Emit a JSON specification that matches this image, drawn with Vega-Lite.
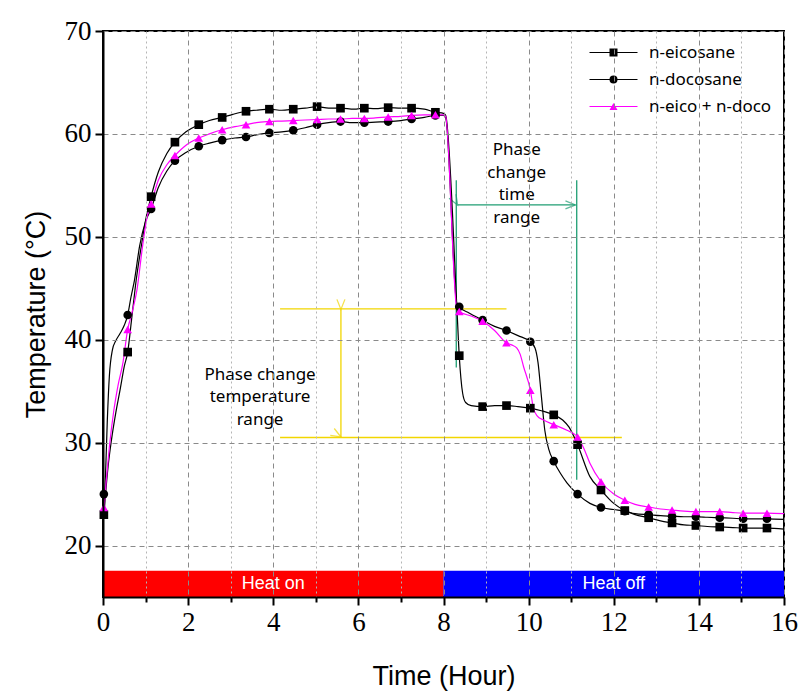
{
  "$schema": "https://vega.github.io/schema/vega-lite/v6.json",
  "width": 681,
  "height": 566,
  "autosize": "none",
  "padding": {"left": 103, "top": 31, "right": 26, "bottom": 103},
  "background": "white",
  "config": {
    "view": {"stroke": "black", "strokeWidth": 2},
    "axis": {
      "domainColor": "black", "domainWidth": 2,
      "tickColor": "black", "tickWidth": 2, "labelFlush": false,
      "labelFont": "Liberation Serif", "labelFontSize": 27, "labelColor": "black",
      "titleFont": "Liberation Sans", "titleFontSize": 27, "titleFontWeight": "normal", "titleColor": "black",
      "gridColor": "#8a8a8a", "gridDash": [5, 4], "gridWidth": 1
    },
    "legend": {
      "orient": "none", "padding": 0, "labelFont": "Noto Sans", "labelFontSize": 17, "labelColor": "black",
      "symbolSize": 64, "labelOffset": 27, "rowPadding": 9, "title": null
    }
  },
  "datasets": {
    "lines": [
      {"series": "n-eicosane", "time": 0.0, "temp": 22.9},
      {"series": "n-eicosane", "time": 0.03, "temp": 23.5},
      {"series": "n-eicosane", "time": 0.06, "temp": 25.0},
      {"series": "n-eicosane", "time": 0.12, "temp": 27.7},
      {"series": "n-eicosane", "time": 0.2, "temp": 30.3},
      {"series": "n-eicosane", "time": 0.3, "temp": 32.9},
      {"series": "n-eicosane", "time": 0.4, "temp": 35.1},
      {"series": "n-eicosane", "time": 0.5, "temp": 37.4},
      {"series": "n-eicosane", "time": 0.58, "temp": 38.8},
      {"series": "n-eicosane", "time": 0.67, "temp": 41.9},
      {"series": "n-eicosane", "time": 0.78, "temp": 45.8},
      {"series": "n-eicosane", "time": 0.9, "temp": 49.1},
      {"series": "n-eicosane", "time": 1.02, "temp": 52.0},
      {"series": "n-eicosane", "time": 1.13, "temp": 53.9},
      {"series": "n-eicosane", "time": 1.3, "temp": 56.3},
      {"series": "n-eicosane", "time": 1.5, "temp": 58.1},
      {"series": "n-eicosane", "time": 1.69, "temp": 59.2},
      {"series": "n-eicosane", "time": 1.95, "temp": 60.2},
      {"series": "n-eicosane", "time": 2.25, "temp": 60.9},
      {"series": "n-eicosane", "time": 2.5, "temp": 61.3},
      {"series": "n-eicosane", "time": 2.8, "temp": 61.6},
      {"series": "n-eicosane", "time": 3.05, "temp": 61.9},
      {"series": "n-eicosane", "time": 3.36, "temp": 62.2},
      {"series": "n-eicosane", "time": 3.6, "temp": 62.3},
      {"series": "n-eicosane", "time": 3.91, "temp": 62.4},
      {"series": "n-eicosane", "time": 4.2, "temp": 62.3},
      {"series": "n-eicosane", "time": 4.47, "temp": 62.4},
      {"series": "n-eicosane", "time": 4.75, "temp": 62.5},
      {"series": "n-eicosane", "time": 5.03, "temp": 62.65},
      {"series": "n-eicosane", "time": 5.3, "temp": 62.5},
      {"series": "n-eicosane", "time": 5.58, "temp": 62.5},
      {"series": "n-eicosane", "time": 5.9, "temp": 62.4},
      {"series": "n-eicosane", "time": 6.14, "temp": 62.5},
      {"series": "n-eicosane", "time": 6.4, "temp": 62.45},
      {"series": "n-eicosane", "time": 6.7, "temp": 62.55},
      {"series": "n-eicosane", "time": 7.0, "temp": 62.5},
      {"series": "n-eicosane", "time": 7.25, "temp": 62.5},
      {"series": "n-eicosane", "time": 7.55, "temp": 62.4},
      {"series": "n-eicosane", "time": 7.81, "temp": 62.1},
      {"series": "n-eicosane", "time": 8.0, "temp": 62.0},
      {"series": "n-eicosane", "time": 8.05, "temp": 61.8},
      {"series": "n-eicosane", "time": 8.31, "temp": 43.5},
      {"series": "n-eicosane", "time": 8.37, "temp": 38.45},
      {"series": "n-eicosane", "time": 8.45, "temp": 34.8},
      {"series": "n-eicosane", "time": 8.52, "temp": 33.9},
      {"series": "n-eicosane", "time": 8.65, "temp": 33.6},
      {"series": "n-eicosane", "time": 8.92, "temp": 33.5},
      {"series": "n-eicosane", "time": 9.2, "temp": 33.6},
      {"series": "n-eicosane", "time": 9.48, "temp": 33.6},
      {"series": "n-eicosane", "time": 9.75, "temp": 33.5},
      {"series": "n-eicosane", "time": 10.04, "temp": 33.35},
      {"series": "n-eicosane", "time": 10.3, "temp": 33.1},
      {"series": "n-eicosane", "time": 10.59, "temp": 32.7},
      {"series": "n-eicosane", "time": 10.8, "temp": 32.2},
      {"series": "n-eicosane", "time": 10.95, "temp": 31.5},
      {"series": "n-eicosane", "time": 11.15, "temp": 29.8},
      {"series": "n-eicosane", "time": 11.44, "temp": 26.7},
      {"series": "n-eicosane", "time": 11.7, "temp": 25.4},
      {"series": "n-eicosane", "time": 12.0, "temp": 24.1},
      {"series": "n-eicosane", "time": 12.26, "temp": 23.4},
      {"series": "n-eicosane", "time": 12.5, "temp": 23.0},
      {"series": "n-eicosane", "time": 12.82, "temp": 22.7},
      {"series": "n-eicosane", "time": 13.1, "temp": 22.4},
      {"series": "n-eicosane", "time": 13.37, "temp": 22.2},
      {"series": "n-eicosane", "time": 13.65, "temp": 22.0},
      {"series": "n-eicosane", "time": 13.93, "temp": 21.95},
      {"series": "n-eicosane", "time": 14.2, "temp": 21.85},
      {"series": "n-eicosane", "time": 14.49, "temp": 21.8},
      {"series": "n-eicosane", "time": 14.8, "temp": 21.75},
      {"series": "n-eicosane", "time": 15.04, "temp": 21.7},
      {"series": "n-eicosane", "time": 15.3, "temp": 21.7},
      {"series": "n-eicosane", "time": 15.6, "temp": 21.7},
      {"series": "n-eicosane", "time": 16.0, "temp": 21.6},

      {"series": "n-docosane", "time": 0.0, "temp": 23.0},
      {"series": "n-docosane", "time": 0.03, "temp": 24.5},
      {"series": "n-docosane", "time": 0.06, "temp": 27.0},
      {"series": "n-docosane", "time": 0.1, "temp": 32.0},
      {"series": "n-docosane", "time": 0.15, "temp": 36.5},
      {"series": "n-docosane", "time": 0.22, "temp": 39.0},
      {"series": "n-docosane", "time": 0.3, "temp": 39.9},
      {"series": "n-docosane", "time": 0.4, "temp": 40.6},
      {"series": "n-docosane", "time": 0.5, "temp": 41.4},
      {"series": "n-docosane", "time": 0.58, "temp": 42.4},
      {"series": "n-docosane", "time": 0.66, "temp": 44.2},
      {"series": "n-docosane", "time": 0.74, "temp": 45.8},
      {"series": "n-docosane", "time": 0.86, "temp": 49.1},
      {"series": "n-docosane", "time": 1.0, "temp": 51.5},
      {"series": "n-docosane", "time": 1.13, "temp": 52.7},
      {"series": "n-docosane", "time": 1.3, "temp": 54.8},
      {"series": "n-docosane", "time": 1.5, "temp": 56.4},
      {"series": "n-docosane", "time": 1.69, "temp": 57.4},
      {"series": "n-docosane", "time": 1.95, "temp": 58.2},
      {"series": "n-docosane", "time": 2.25, "temp": 58.8},
      {"series": "n-docosane", "time": 2.5, "temp": 59.1},
      {"series": "n-docosane", "time": 2.8, "temp": 59.4},
      {"series": "n-docosane", "time": 3.1, "temp": 59.6},
      {"series": "n-docosane", "time": 3.36, "temp": 59.7},
      {"series": "n-docosane", "time": 3.6, "temp": 59.9},
      {"series": "n-docosane", "time": 3.91, "temp": 60.1},
      {"series": "n-docosane", "time": 4.2, "temp": 60.2},
      {"series": "n-docosane", "time": 4.47, "temp": 60.35},
      {"series": "n-docosane", "time": 4.75, "temp": 60.6},
      {"series": "n-docosane", "time": 5.03, "temp": 60.9},
      {"series": "n-docosane", "time": 5.3, "temp": 61.1},
      {"series": "n-docosane", "time": 5.58, "temp": 61.2},
      {"series": "n-docosane", "time": 5.85, "temp": 61.1},
      {"series": "n-docosane", "time": 6.14, "temp": 61.1},
      {"series": "n-docosane", "time": 6.4, "temp": 61.15},
      {"series": "n-docosane", "time": 6.7, "temp": 61.2},
      {"series": "n-docosane", "time": 7.0, "temp": 61.3},
      {"series": "n-docosane", "time": 7.25, "temp": 61.45},
      {"series": "n-docosane", "time": 7.55, "temp": 61.6},
      {"series": "n-docosane", "time": 7.81, "temp": 61.8},
      {"series": "n-docosane", "time": 8.0, "temp": 61.8},
      {"series": "n-docosane", "time": 8.05, "temp": 61.6},
      {"series": "n-docosane", "time": 8.31, "temp": 43.6},
      {"series": "n-docosane", "time": 8.37, "temp": 43.2},
      {"series": "n-docosane", "time": 8.6, "temp": 42.6},
      {"series": "n-docosane", "time": 8.92, "temp": 41.9},
      {"series": "n-docosane", "time": 9.2, "temp": 41.3},
      {"series": "n-docosane", "time": 9.48, "temp": 40.9},
      {"series": "n-docosane", "time": 9.75, "temp": 40.4},
      {"series": "n-docosane", "time": 10.04, "temp": 39.8},
      {"series": "n-docosane", "time": 10.15, "temp": 39.2},
      {"series": "n-docosane", "time": 10.22, "temp": 37.8},
      {"series": "n-docosane", "time": 10.3, "temp": 34.5},
      {"series": "n-docosane", "time": 10.38, "temp": 31.2},
      {"series": "n-docosane", "time": 10.47, "temp": 29.4},
      {"series": "n-docosane", "time": 10.59, "temp": 28.2},
      {"series": "n-docosane", "time": 10.75, "temp": 27.0},
      {"series": "n-docosane", "time": 10.9, "temp": 26.1},
      {"series": "n-docosane", "time": 11.15, "temp": 25.0},
      {"series": "n-docosane", "time": 11.44, "temp": 24.1},
      {"series": "n-docosane", "time": 11.7, "temp": 23.7},
      {"series": "n-docosane", "time": 12.0, "temp": 23.5},
      {"series": "n-docosane", "time": 12.26, "temp": 23.35},
      {"series": "n-docosane", "time": 12.5, "temp": 23.1},
      {"series": "n-docosane", "time": 12.82, "temp": 23.0},
      {"series": "n-docosane", "time": 13.1, "temp": 22.9},
      {"series": "n-docosane", "time": 13.37, "temp": 22.85},
      {"series": "n-docosane", "time": 13.65, "temp": 22.8},
      {"series": "n-docosane", "time": 13.93, "temp": 22.8},
      {"series": "n-docosane", "time": 14.2, "temp": 22.75},
      {"series": "n-docosane", "time": 14.49, "temp": 22.7},
      {"series": "n-docosane", "time": 14.8, "temp": 22.65},
      {"series": "n-docosane", "time": 15.04, "temp": 22.6},
      {"series": "n-docosane", "time": 15.3, "temp": 22.6},
      {"series": "n-docosane", "time": 15.6, "temp": 22.6},
      {"series": "n-docosane", "time": 16.0, "temp": 22.55},

      {"series": "n-eico + n-doco", "time": 0.0, "temp": 23.5},
      {"series": "n-eico + n-doco", "time": 0.03, "temp": 24.0},
      {"series": "n-eico + n-doco", "time": 0.08, "temp": 26.5},
      {"series": "n-eico + n-doco", "time": 0.15, "temp": 29.6},
      {"series": "n-eico + n-doco", "time": 0.25, "temp": 33.0},
      {"series": "n-eico + n-doco", "time": 0.35, "temp": 35.5},
      {"series": "n-eico + n-doco", "time": 0.47, "temp": 37.8},
      {"series": "n-eico + n-doco", "time": 0.58, "temp": 41.0},
      {"series": "n-eico + n-doco", "time": 0.68, "temp": 42.6},
      {"series": "n-eico + n-doco", "time": 0.8, "temp": 44.9},
      {"series": "n-eico + n-doco", "time": 0.93, "temp": 49.1},
      {"series": "n-eico + n-doco", "time": 1.04, "temp": 52.0},
      {"series": "n-eico + n-doco", "time": 1.13, "temp": 53.2},
      {"series": "n-eico + n-doco", "time": 1.3, "temp": 55.5},
      {"series": "n-eico + n-doco", "time": 1.5, "temp": 57.0},
      {"series": "n-eico + n-doco", "time": 1.69, "temp": 57.9},
      {"series": "n-eico + n-doco", "time": 1.95, "temp": 58.9},
      {"series": "n-eico + n-doco", "time": 2.25, "temp": 59.6},
      {"series": "n-eico + n-doco", "time": 2.5, "temp": 60.0},
      {"series": "n-eico + n-doco", "time": 2.8, "temp": 60.4},
      {"series": "n-eico + n-doco", "time": 3.1, "temp": 60.7},
      {"series": "n-eico + n-doco", "time": 3.36, "temp": 60.9},
      {"series": "n-eico + n-doco", "time": 3.6, "temp": 61.1},
      {"series": "n-eico + n-doco", "time": 3.91, "temp": 61.2},
      {"series": "n-eico + n-doco", "time": 4.2, "temp": 61.25},
      {"series": "n-eico + n-doco", "time": 4.47, "temp": 61.3},
      {"series": "n-eico + n-doco", "time": 4.75, "temp": 61.35},
      {"series": "n-eico + n-doco", "time": 5.03, "temp": 61.4},
      {"series": "n-eico + n-doco", "time": 5.3, "temp": 61.45},
      {"series": "n-eico + n-doco", "time": 5.58, "temp": 61.45},
      {"series": "n-eico + n-doco", "time": 5.85, "temp": 61.5},
      {"series": "n-eico + n-doco", "time": 6.14, "temp": 61.5},
      {"series": "n-eico + n-doco", "time": 6.4, "temp": 61.55},
      {"series": "n-eico + n-doco", "time": 6.7, "temp": 61.65},
      {"series": "n-eico + n-doco", "time": 7.0, "temp": 61.7},
      {"series": "n-eico + n-doco", "time": 7.25, "temp": 61.8},
      {"series": "n-eico + n-doco", "time": 7.55, "temp": 61.85},
      {"series": "n-eico + n-doco", "time": 7.81, "temp": 61.85},
      {"series": "n-eico + n-doco", "time": 8.0, "temp": 61.85},
      {"series": "n-eico + n-doco", "time": 8.05, "temp": 61.7},
      {"series": "n-eico + n-doco", "time": 8.31, "temp": 43.1},
      {"series": "n-eico + n-doco", "time": 8.37, "temp": 42.75},
      {"series": "n-eico + n-doco", "time": 8.65, "temp": 42.3},
      {"series": "n-eico + n-doco", "time": 8.92, "temp": 41.8},
      {"series": "n-eico + n-doco", "time": 9.2, "temp": 40.9},
      {"series": "n-eico + n-doco", "time": 9.48, "temp": 39.7},
      {"series": "n-eico + n-doco", "time": 9.6, "temp": 39.5},
      {"series": "n-eico + n-doco", "time": 9.72, "temp": 39.2},
      {"series": "n-eico + n-doco", "time": 9.8, "temp": 38.6},
      {"series": "n-eico + n-doco", "time": 9.88, "temp": 37.4},
      {"series": "n-eico + n-doco", "time": 10.04, "temp": 35.1},
      {"series": "n-eico + n-doco", "time": 10.11, "temp": 33.4},
      {"series": "n-eico + n-doco", "time": 10.2, "temp": 32.6},
      {"series": "n-eico + n-doco", "time": 10.35, "temp": 32.2},
      {"series": "n-eico + n-doco", "time": 10.59, "temp": 31.75},
      {"series": "n-eico + n-doco", "time": 10.9, "temp": 31.2},
      {"series": "n-eico + n-doco", "time": 11.15, "temp": 30.55},
      {"series": "n-eico + n-doco", "time": 11.3, "temp": 29.4},
      {"series": "n-eico + n-doco", "time": 11.44, "temp": 28.0},
      {"series": "n-eico + n-doco", "time": 11.7, "temp": 26.2},
      {"series": "n-eico + n-doco", "time": 12.0, "temp": 25.0},
      {"series": "n-eico + n-doco", "time": 12.26, "temp": 24.4},
      {"series": "n-eico + n-doco", "time": 12.5, "temp": 24.0},
      {"series": "n-eico + n-doco", "time": 12.82, "temp": 23.75},
      {"series": "n-eico + n-doco", "time": 13.1, "temp": 23.55},
      {"series": "n-eico + n-doco", "time": 13.37, "temp": 23.45},
      {"series": "n-eico + n-doco", "time": 13.65, "temp": 23.35},
      {"series": "n-eico + n-doco", "time": 13.93, "temp": 23.3},
      {"series": "n-eico + n-doco", "time": 14.2, "temp": 23.3},
      {"series": "n-eico + n-doco", "time": 14.49, "temp": 23.3},
      {"series": "n-eico + n-doco", "time": 14.8, "temp": 23.2},
      {"series": "n-eico + n-doco", "time": 15.04, "temp": 23.15},
      {"series": "n-eico + n-doco", "time": 15.3, "temp": 23.15},
      {"series": "n-eico + n-doco", "time": 15.6, "temp": 23.15},
      {"series": "n-eico + n-doco", "time": 16.0, "temp": 23.1}
    ],
    "markers": [
      {"series": "n-eicosane", "time": 0.02, "temp": 23.0},
      {"series": "n-eicosane", "time": 0.58, "temp": 38.8},
      {"series": "n-eicosane", "time": 1.13, "temp": 53.9},
      {"series": "n-eicosane", "time": 1.69, "temp": 59.2},
      {"series": "n-eicosane", "time": 2.25, "temp": 60.9},
      {"series": "n-eicosane", "time": 2.8, "temp": 61.6},
      {"series": "n-eicosane", "time": 3.36, "temp": 62.2},
      {"series": "n-eicosane", "time": 3.91, "temp": 62.4},
      {"series": "n-eicosane", "time": 4.47, "temp": 62.4},
      {"series": "n-eicosane", "time": 5.03, "temp": 62.65},
      {"series": "n-eicosane", "time": 5.58, "temp": 62.5},
      {"series": "n-eicosane", "time": 6.14, "temp": 62.5},
      {"series": "n-eicosane", "time": 6.7, "temp": 62.55},
      {"series": "n-eicosane", "time": 7.25, "temp": 62.5},
      {"series": "n-eicosane", "time": 7.81, "temp": 62.1},
      {"series": "n-eicosane", "time": 8.37, "temp": 38.45},
      {"series": "n-eicosane", "time": 8.92, "temp": 33.5},
      {"series": "n-eicosane", "time": 9.48, "temp": 33.6},
      {"series": "n-eicosane", "time": 10.04, "temp": 33.35},
      {"series": "n-eicosane", "time": 10.59, "temp": 32.7},
      {"series": "n-eicosane", "time": 11.15, "temp": 29.8},
      {"series": "n-eicosane", "time": 11.7, "temp": 25.4},
      {"series": "n-eicosane", "time": 12.26, "temp": 23.4},
      {"series": "n-eicosane", "time": 12.82, "temp": 22.7},
      {"series": "n-eicosane", "time": 13.37, "temp": 22.2},
      {"series": "n-eicosane", "time": 13.93, "temp": 21.95},
      {"series": "n-eicosane", "time": 14.49, "temp": 21.8},
      {"series": "n-eicosane", "time": 15.04, "temp": 21.7},
      {"series": "n-eicosane", "time": 15.6, "temp": 21.7},

      {"series": "n-docosane", "time": 0.02, "temp": 25.0},
      {"series": "n-docosane", "time": 0.58, "temp": 42.4},
      {"series": "n-docosane", "time": 1.13, "temp": 52.7},
      {"series": "n-docosane", "time": 1.69, "temp": 57.4},
      {"series": "n-docosane", "time": 2.25, "temp": 58.8},
      {"series": "n-docosane", "time": 2.8, "temp": 59.4},
      {"series": "n-docosane", "time": 3.36, "temp": 59.7},
      {"series": "n-docosane", "time": 3.91, "temp": 60.1},
      {"series": "n-docosane", "time": 4.47, "temp": 60.35},
      {"series": "n-docosane", "time": 5.03, "temp": 60.9},
      {"series": "n-docosane", "time": 5.58, "temp": 61.2},
      {"series": "n-docosane", "time": 6.14, "temp": 61.1},
      {"series": "n-docosane", "time": 6.7, "temp": 61.2},
      {"series": "n-docosane", "time": 7.25, "temp": 61.45},
      {"series": "n-docosane", "time": 7.81, "temp": 61.8},
      {"series": "n-docosane", "time": 8.37, "temp": 43.2},
      {"series": "n-docosane", "time": 8.92, "temp": 41.9},
      {"series": "n-docosane", "time": 9.48, "temp": 40.9},
      {"series": "n-docosane", "time": 10.04, "temp": 39.8},
      {"series": "n-docosane", "time": 10.59, "temp": 28.2},
      {"series": "n-docosane", "time": 11.15, "temp": 25.0},
      {"series": "n-docosane", "time": 11.7, "temp": 23.7},
      {"series": "n-docosane", "time": 12.26, "temp": 23.35},
      {"series": "n-docosane", "time": 12.82, "temp": 23.0},
      {"series": "n-docosane", "time": 13.37, "temp": 22.85},
      {"series": "n-docosane", "time": 13.93, "temp": 22.8},
      {"series": "n-docosane", "time": 14.49, "temp": 22.7},
      {"series": "n-docosane", "time": 15.04, "temp": 22.6},
      {"series": "n-docosane", "time": 15.6, "temp": 22.6},

      {"series": "n-eico + n-doco", "time": 0.02, "temp": 23.7},
      {"series": "n-eico + n-doco", "time": 0.58, "temp": 41.0},
      {"series": "n-eico + n-doco", "time": 1.13, "temp": 53.2},
      {"series": "n-eico + n-doco", "time": 1.69, "temp": 57.9},
      {"series": "n-eico + n-doco", "time": 2.25, "temp": 59.6},
      {"series": "n-eico + n-doco", "time": 2.8, "temp": 60.4},
      {"series": "n-eico + n-doco", "time": 3.36, "temp": 60.9},
      {"series": "n-eico + n-doco", "time": 3.91, "temp": 61.2},
      {"series": "n-eico + n-doco", "time": 4.47, "temp": 61.3},
      {"series": "n-eico + n-doco", "time": 5.03, "temp": 61.4},
      {"series": "n-eico + n-doco", "time": 5.58, "temp": 61.45},
      {"series": "n-eico + n-doco", "time": 6.14, "temp": 61.5},
      {"series": "n-eico + n-doco", "time": 6.7, "temp": 61.65},
      {"series": "n-eico + n-doco", "time": 7.25, "temp": 61.8},
      {"series": "n-eico + n-doco", "time": 7.81, "temp": 61.85},
      {"series": "n-eico + n-doco", "time": 8.37, "temp": 42.75},
      {"series": "n-eico + n-doco", "time": 8.92, "temp": 41.8},
      {"series": "n-eico + n-doco", "time": 9.48, "temp": 39.7},
      {"series": "n-eico + n-doco", "time": 10.04, "temp": 35.1},
      {"series": "n-eico + n-doco", "time": 10.59, "temp": 31.75},
      {"series": "n-eico + n-doco", "time": 11.15, "temp": 30.55},
      {"series": "n-eico + n-doco", "time": 11.7, "temp": 26.2},
      {"series": "n-eico + n-doco", "time": 12.26, "temp": 24.4},
      {"series": "n-eico + n-doco", "time": 12.82, "temp": 23.75},
      {"series": "n-eico + n-doco", "time": 13.37, "temp": 23.45},
      {"series": "n-eico + n-doco", "time": 13.93, "temp": 23.3},
      {"series": "n-eico + n-doco", "time": 14.49, "temp": 23.3},
      {"series": "n-eico + n-doco", "time": 15.04, "temp": 23.15},
      {"series": "n-eico + n-doco", "time": 15.6, "temp": 23.15}
    ],
    "heat": [
      {"phase": "Heat on", "start": 0, "end": 8},
      {"phase": "Heat off", "start": 8, "end": 16}
    ],
    "ranges": [
      {"group": "time", "time": 8.3, "time2": 8.3, "temp": 55.5, "temp2": 37.3},
      {"group": "time", "time": 11.13, "time2": 11.13, "temp": 55.5, "temp2": 26.4},
      {"group": "time", "time": 8.33, "time2": 11.1, "temp": 53.1, "temp2": 53.1},
      {"group": "temperature", "time": 4.16, "time2": 9.48, "temp": 43.0, "temp2": 43.0},
      {"group": "temperature", "time": 4.16, "time2": 12.19, "temp": 30.5, "temp2": 30.5},
      {"group": "temperature", "time": 5.59, "time2": 5.59, "temp": 42.95, "temp2": 30.55}
    ],
    "arrows": [
      {"group": "time", "time": 8.33, "temp": 53.1, "dir": "left"},
      {"group": "time", "time": 11.1, "temp": 53.1, "dir": "right"},
      {"group": "temperature", "time": 5.59, "temp": 42.95, "dir": "up"},
      {"group": "temperature", "time": 5.59, "temp": 30.55, "dir": "down"}
    ],
    "notes": [
      {"label": "Phase\nchange\ntime\nrange", "time": 9.72, "temp": 58.4},
      {"label": "Phase change\ntemperature\nrange", "time": 3.69, "temp": 36.6}
    ]
  },
  "resolve": {"axis": {"x": "independent", "y": "independent"}},
  "layer": [
    {
      "data": {"name": "heat"},
      "mark": {"type": "rect"},
      "encoding": {
        "x": {"field": "start", "type": "quantitative",
              "scale": {"domain": [0, 16], "nice": false, "zero": false},
              "axis": {"values": [0, 2, 4, 6, 8, 10, 12, 14, 16], "grid": true, "tickSize": 8, "labelPadding": 4, "title": "Time (Hour)", "titlePadding": 28, "zindex": 1, "orient": "bottom"}},
        "x2": {"field": "end"},
        "y": {"datum": 15, "type": "quantitative",
              "scale": {"domain": [15, 70], "nice": false, "zero": false},
              "axis": null},
        "y2": {"datum": 17.55},
        "color": {"field": "phase", "type": "nominal",
                  "scale": {"domain": ["time", "temperature", "Heat on", "Heat off"], "range": ["#1f9e73", "#f2d600", "#ff0000", "#0000ff"]},
                  "legend": null}
      }
    },
    {
      "data": {"name": "heat"},
      "transform": [{"calculate": "(datum.start + datum.end) / 2", "as": "center"}],
      "mark": {"type": "text", "color": "white", "font": "Liberation Sans Narrow, Liberation Sans", "fontSize": 18, "baseline": "middle", "align": "center"},
      "encoding": {
        "x": {"field": "center", "type": "quantitative", "axis": null},
        "y": {"datum": 16.3, "type": "quantitative", "axis": null},
        "text": {"field": "phase"}
      }
    },
    {
      "data": {"name": "ranges"},
      "mark": {"type": "rule", "strokeWidth": 1.3},
      "encoding": {
        "x": {"field": "time", "type": "quantitative", "axis": null},
        "x2": {"field": "time2"},
        "y": {"field": "temp", "type": "quantitative", "axis": null},
        "y2": {"field": "temp2"},
        "color": {"field": "group", "type": "nominal", "legend": null}
      }
    },
    {
      "data": {"name": "arrows"},
      "mark": {"type": "point", "filled": false, "shape": "M-2,-0.8L0,0L-2,0.8", "size": 100, "strokeWidth": 1.3},
      "encoding": {
        "x": {"field": "time", "type": "quantitative", "axis": null},
        "y": {"field": "temp", "type": "quantitative", "axis": null},
        "color": {"field": "group", "type": "nominal", "legend": null},
        "angle": {"field": "dir", "type": "nominal", "scale": {"domain": ["right", "down", "left", "up"], "range": [0, 90, 180, 270]}, "legend": null}
      }
    },
    {
      "data": {"name": "notes"},
      "mark": {"type": "text", "font": "Noto Sans", "fontSize": 17, "lineHeight": 22.5, "lineBreak": "\n", "align": "center", "baseline": "middle", "color": "black"},
      "encoding": {
        "x": {"field": "time", "type": "quantitative", "axis": null},
        "y": {"field": "temp", "type": "quantitative", "axis": null},
        "text": {"field": "label"}
      }
    },
    {
      "data": {"name": "lines"},
      "mark": {"type": "line", "strokeWidth": 1.2, "interpolate": "monotone"},
      "encoding": {
        "x": {"field": "time", "type": "quantitative",
              "axis": {"values": [1, 3, 5, 7, 9, 11, 13, 15], "grid": true, "gridDash": [2, 3], "gridColor": "#b5b5b5", "labels": false, "domain": false, "tickSize": 5, "title": null, "orient": "bottom", "zindex": 1}},
        "y": {"field": "temp", "type": "quantitative",
              "axis": {"orient": "left", "values": [20, 30, 40, 50, 60, 70], "grid": true, "tickSize": 8, "labelPadding": 4, "title": "Temperature (°C)", "titlePadding": 14, "zindex": 1}},
        "stroke": {"field": "series", "type": "nominal", "sort": ["n-eicosane", "n-docosane", "n-eico + n-doco"],
                   "scale": {"range": ["#000000", "#000000", "#ff00ff"]},
                   "legend": {"legendX": 502, "legendY": 13, "symbolType": "M-6,0H6", "symbolStrokeWidth": 1.2, "labelOpacity": 0}}
      }
    },
    {
      "data": {"name": "markers"},
      "mark": {"type": "point", "filled": true, "size": 75, "opacity": 1},
      "encoding": {
        "x": {"field": "time", "type": "quantitative", "axis": null},
        "y": {"field": "temp", "type": "quantitative", "axis": null},
        "fill": {"field": "series", "type": "nominal",
                 "scale": {"domain": ["n-eicosane", "n-docosane", "n-eico + n-doco"], "range": ["#000000", "#000000", "#ff00ff"]},
                 "legend": {"legendX": 502, "legendY": 13, "symbolStrokeWidth": 0}},
        "shape": {"field": "series", "type": "nominal",
                  "scale": {"domain": ["n-eicosane", "n-docosane", "n-eico + n-doco"], "range": ["square", "circle", "triangle-up"]},
                  "legend": {"legendX": 502, "legendY": 13}}
      }
    }
  ]
}
